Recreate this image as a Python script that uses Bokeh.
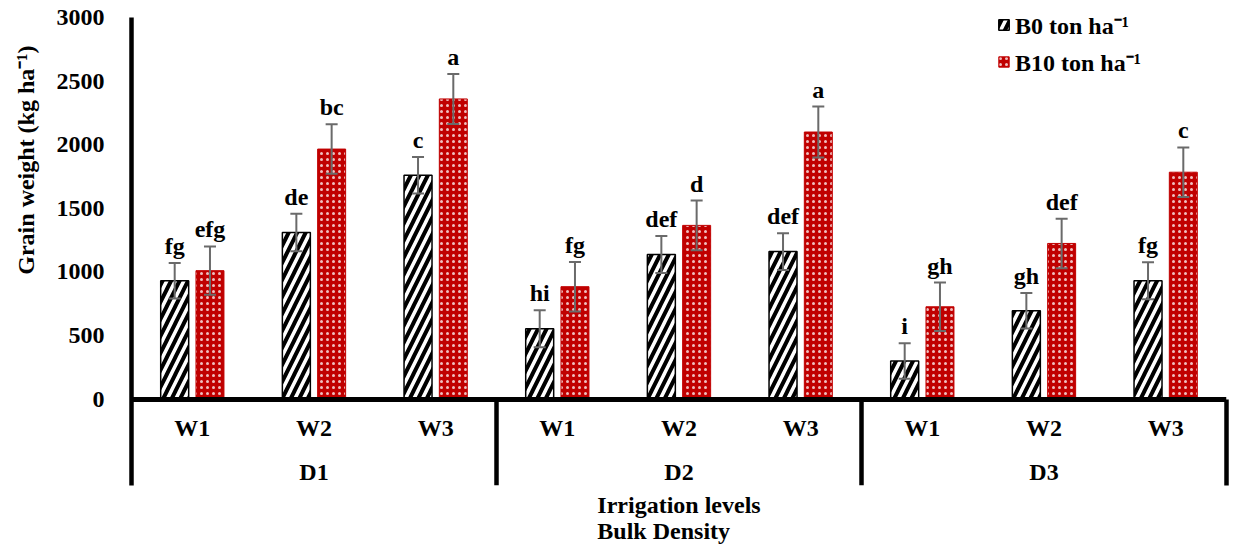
from bokeh.plotting import figure
from bokeh.models import (FactorRange, ColumnDataSource, Whisker, TeeHead, FixedTicker,
                          CategoricalAxis, LinearAxis, Title, Range1d)
from bokeh.transform import dodge
from bokeh.core.properties import value
from bokeh.embed import file_html
from bokeh.resources import INLINE

# ---- data ----
densities = ["D1", "D2", "D3"]
irrigation = ["W1", "W2", "W3"]
b0_values = [931, 1310, 1760, 553, 1137, 1160, 300, 695, 931]
b0_errors = [140, 148, 143, 145, 145, 145, 140, 140, 145]
b10_values = [1010, 1966, 2360, 884, 1366, 2100, 726, 1224, 1784]
b10_errors = [190, 195, 197, 195, 195, 200, 190, 195, 195]
b0_letters = ["fg", "de", "c", "hi", "def", "def", "i", "gh", "fg"]
b10_letters = ["efg", "bc", "a", "fg", "d", "a", "gh", "def", "c"]
series_names = ["B0 ton ha\u207b\u00b9", "B10 ton ha\u207b\u00b9"]
y_ticks = [0, 500, 1000, 1500, 2000, 2500, 3000]
y_title = "Grain weight (kg ha\u207b\u00b9)"
x_title = "Irrigation levels\nBulk Density"

FONT = "Liberation Serif"
FS = "24px"
RED = "#C00000"
ERR = "#6a6a6a"

factors = [(d, w) for d in densities for w in irrigation]
src = ColumnDataSource(dict(
    x=factors,
    b0=b0_values, b0_lo=[v - e for v, e in zip(b0_values, b0_errors)],
    b0_hi=[v + e for v, e in zip(b0_values, b0_errors)],
    b10=b10_values, b10_lo=[v - e for v, e in zip(b10_values, b10_errors)],
    b10_hi=[v + e for v, e in zip(b10_values, b10_errors)],
    b0_lab=b0_letters, b10_lab=b10_letters,
))

y_lo, y_hi = -679, 3134

p = figure(width=1233, height=547,
           x_range=FactorRange(factors=factors, group_padding=0, range_padding=0, factor_padding=0),
           y_range=Range1d(y_lo, y_hi),
           output_backend="svg", toolbar_location=None,
           x_axis_location=None, y_axis_location=None,
           min_border_left=131, min_border_right=7, min_border_top=0, min_border_bottom=62)
p.extra_x_ranges = {"grp": FactorRange(factors=densities, range_padding=0, factor_padding=0)}
p.outline_line_color = None
p.xgrid.visible = False
p.ygrid.visible = False
p.background_fill_color = "white"

# ---- y axis ----
ya = LinearAxis(ticker=FixedTicker(ticks=y_ticks), bounds=(y_lo, max(y_ticks)))
ya.axis_line_width = 4.5
ya.axis_line_color = "black"
ya.major_tick_line_color = None
ya.minor_tick_line_color = None
ya.major_label_standoff = 21
ya.major_label_text_font = FONT
ya.major_label_text_font_style = "bold"
ya.major_label_text_font_size = FS
ya.major_label_text_color = "black"
p.add_layout(ya, "left")

ytitle = Title(text=y_title, align="right", vertical_align="top", offset=45, standoff=25,
               text_font=FONT, text_font_style="bold", text_font_size=FS, text_color="black")
p.add_layout(ytitle, "left")

ra = LinearAxis(ticker=FixedTicker(ticks=[]), bounds=(y_lo, 0))
ra.axis_line_width = 4.5
ra.axis_line_color = "black"
ra.major_tick_line_color = None
ra.minor_tick_line_color = None
ra.major_label_text_font_size = "0px"
p.add_layout(ra, "right")

# ---- x axes ----
xa = CategoricalAxis(fixed_location=0)
xa.axis_line_width = 5
xa.axis_line_color = "black"
xa.major_tick_line_color = None
xa.minor_tick_line_color = None
xa.separator_line_color = None
xa.major_label_standoff = 10
xa.major_label_text_font = FONT
xa.major_label_text_font_style = "bold"
xa.major_label_text_font_size = FS
xa.major_label_text_color = "black"
xa.group_text_color = None
p.add_layout(xa, "below")

ga = CategoricalAxis(x_range_name="grp", fixed_location=0)
ga.axis_line_color = None
ga.major_tick_line_color = None
ga.minor_tick_line_color = None
ga.major_label_standoff = 54
ga.major_label_text_font = FONT
ga.major_label_text_font_style = "bold"
ga.major_label_text_font_size = FS
ga.major_label_text_color = "black"
p.add_layout(ga, "below")

# ---- group separators ----
bounds = []
acc = 0
for d in densities[:-1]:
    acc += len(irrigation)
    bounds.append(acc)
p.segment(x0=bounds, y0=[0] * len(bounds), x1=bounds, y1=[y_lo] * len(bounds),
          line_color="black", line_width=4.5)

# ---- bars ----
off = 0.145
bw = 0.23
r0 = p.vbar(x=dodge("x", -off, range=p.x_range), top="b0", bottom=0, width=bw, source=src,
            fill_color="white", line_color="black", line_width=1.5,
            hatch_pattern="/", hatch_color="black", hatch_weight=4, hatch_scale=17,
            legend_label=series_names[0])
r1 = p.vbar(x=dodge("x", off, range=p.x_range), top="b10", bottom=0, width=bw, source=src,
            fill_color=RED, line_color=RED, line_width=1,
            hatch_pattern=".", hatch_color="white", hatch_alpha=0.75, hatch_weight=1, hatch_scale=6,
            legend_label=series_names[1])

for o, lo, hi in [(-off, "b0_lo", "b0_hi"), (off, "b10_lo", "b10_hi")]:
    w = Whisker(base=dodge("x", o, range=p.x_range), lower=lo, upper=hi, source=src,
                line_color=ERR, line_width=2, level="annotation",
                upper_head=TeeHead(size=12, line_color=ERR, line_width=2),
                lower_head=TeeHead(size=12, line_color=ERR, line_width=2))
    p.add_layout(w)

for o, hi, lab in [(-off, "b0_hi", "b0_lab"), (off, "b10_hi", "b10_lab")]:
    p.text(x=dodge("x", o, range=p.x_range), y=hi, text=lab, source=src,
           text_align="center", text_baseline="alphabetic", y_offset=-17,
           text_font=value(FONT), text_font_style="bold", text_font_size=FS,
           text_color="black")

# ---- legend ----
lg = p.legend[0]
lg.location = (866, 407)
lg.padding = 0
lg.margin = 0
lg.spacing = 4
lg.glyph_width = 13
lg.glyph_height = 13
lg.label_height = 28
lg.label_standoff = 5
lg.border_line_color = None
lg.background_fill_alpha = 0
lg.label_text_font = FONT
lg.label_text_font_style = "bold"
lg.label_text_font_size = FS
lg.label_text_color = "black"

# ---- bottom titles ----
t = Title(text=x_title, align="center", text_font=FONT, text_font_style="bold",
          text_font_size=FS, text_color="black", standoff=8, text_line_height=1.0)
p.add_layout(t, "below")

open("out.html", "w").write(file_html(p, INLINE))
